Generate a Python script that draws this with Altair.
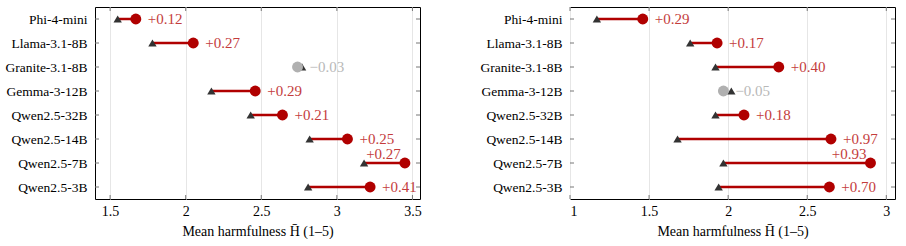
import altair as alt
import pandas as pd
import numpy as np

models = ["Phi-4-mini", "Llama-3.1-8B", "Granite-3.1-8B", "Gemma-3-12B",
          "Qwen2.5-32B", "Qwen2.5-14B", "Qwen2.5-7B", "Qwen2.5-3B"]

left_base = [1.55, 1.78, 2.77, 2.17, 2.43, 2.82, 3.18, 2.81]
left_after = [1.67, 2.05, 2.74, 2.46, 2.64, 3.07, 3.45, 3.22]
left_delta = [0.12, 0.27, -0.03, 0.29, 0.21, 0.25, 0.27, 0.41]
left_ticks = [1.5, 2, 2.5, 3, 3.5]
left_domain = [1.4, 3.55]

right_base = [1.17, 1.76, 1.92, 2.02, 1.92, 1.68, 1.97, 1.94]
right_after = [1.46, 1.93, 2.32, 1.97, 2.10, 2.65, 2.90, 2.64]
right_delta = [0.29, 0.17, 0.40, -0.05, 0.18, 0.97, 0.93, 0.70]
right_ticks = [1, 1.5, 2, 2.5, 3]
right_domain = [1.0, 3.055]

W, H = 325, 192
RED = "#b00000"
LABEL_RED = "#c43c3c"
GRAY = "#b0b0b0"
LABEL_GRAY = "#b8b8b8"
DARK = "#333333"
FONT = "Liberation Serif"
TITLE = "Mean harmfulness H\u0304 (1\u20135)"


def fmt(d):
    return f"+{d:.2f}" if d >= 0 else f"\u2212{abs(d):.2f}"


def panel(base, after, delta, domain, ticks):
    df = pd.DataFrame({"model": models, "base": base, "after": after, "delta": delta})
    df["label"] = [fmt(d) for d in delta]
    df["place"] = np.where(df["after"] + 0.3 > domain[1], "above", "right")
    tdf = pd.DataFrame({"t": ticks})

    xs = alt.Scale(domain=domain, nice=False, zero=False)
    ys = alt.Scale(type="point", domain=models, padding=0.5)
    xaxis = alt.Axis(values=ticks, title=TITLE, grid=True, ticks=False, domain=False,
                     format="~g", labelPadding=5, titlePadding=6,
                     labelFontSize=14, titleFontSize=14)
    yaxis = alt.Axis(title=None, ticks=False, domain=False, grid=False, labelPadding=8,
                     labelFontSize=13.5)

    def X(f):
        return alt.X(f, scale=xs, axis=xaxis)

    Y = alt.Y("model:N", scale=ys, axis=yaxis, sort=models)

    base_chart = alt.Chart(df)

    line = base_chart.mark_rule(color=RED, strokeWidth=2.5).encode(
        x=X("base:Q"), x2="after:Q", y=Y
    ).transform_filter("datum.delta > 0")

    tri = base_chart.mark_point(shape="triangle-up", filled=True, opacity=1,
                                color=DARK, size=70).encode(x=X("base:Q"), y=Y)

    circ = base_chart.mark_circle(size=120, opacity=1).encode(
        x=X("after:Q"), y=Y,
        color=alt.condition("datum.delta < 0", alt.value(GRAY), alt.value(RED)),
    )

    txt_color = alt.condition("datum.delta < 0", alt.value(LABEL_GRAY), alt.value(LABEL_RED))
    lab_r = base_chart.mark_text(align="left", baseline="middle", dx=12, font=FONT,
                                 fontSize=15).encode(
        x=X("after:Q"), y=Y, text="label:N", color=txt_color
    ).transform_filter("datum.place == 'right'")
    lab_a = base_chart.mark_text(align="right", baseline="middle", dx=-4, dy=-9, font=FONT,
                                 fontSize=15).encode(
        x=X("after:Q"), y=Y, text="label:N", color=txt_color
    ).transform_filter("datum.place == 'above'")

    tick_style = dict(color="#777777", strokeWidth=1)
    xt_bot = alt.Chart(tdf).mark_rule(**tick_style).encode(
        x=X("t:Q"), y=alt.value(H - 4), y2=alt.value(H))
    xt_top = alt.Chart(tdf).mark_rule(**tick_style).encode(
        x=X("t:Q"), y=alt.value(0), y2=alt.value(4))
    yt_l = base_chart.mark_rule(**tick_style).encode(
        y=Y, x=alt.value(0), x2=alt.value(4))
    yt_r = base_chart.mark_rule(**tick_style).encode(
        y=Y, x=alt.value(W - 4), x2=alt.value(W))

    return alt.layer(xt_bot, xt_top, yt_l, yt_r, line, tri, circ, lab_r, lab_a).properties(
        width=W, height=H)


left = panel(left_base, left_after, left_delta, left_domain, left_ticks)
right = panel(right_base, right_after, right_delta, right_domain, right_ticks)

chart = alt.hconcat(left, right, spacing=57).properties(
    padding={"left": 4, "top": 6, "right": 7, "bottom": 0}
).configure_view(stroke="#000000", strokeWidth=1).configure_axis(
    labelFont=FONT, titleFont=FONT,
    labelColor="#000000", titleColor="#000000", titleFontWeight="normal",
    gridColor="#e6e6e6", gridWidth=1
)

chart.save("out.html", embed_options={"renderer": "svg", "actions": False})
